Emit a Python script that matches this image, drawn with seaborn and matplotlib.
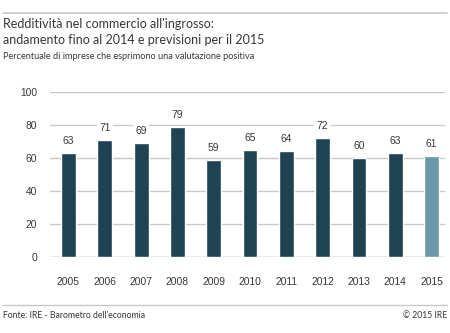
import matplotlib
matplotlib.use("Agg")
import matplotlib.pyplot as plt
import seaborn as sns
import pandas as pd
from matplotlib.lines import Line2D

# Data
years = ["2005", "2006", "2007", "2008", "2009", "2010", "2011", "2012", "2013", "2014", "2015"]
values = [63, 71, 69, 79, 59, 65, 64, 72, 60, 63, 61]
kind = ["consuntivo"] * 10 + ["previsione"]
yticks = [0, 20, 40, 60, 80, 100]

title = "Redditività nel commercio all'ingrosso:\nandamento fino al 2014 e previsioni per il 2015"
subtitle = "Percentuale di imprese che esprimono una valutazione positiva"
source = "Fonte: IRE - Barometro dell'economia"
copyright_txt = "© 2015 IRE"

df = pd.DataFrame({"anno": years, "valore": values, "tipo": kind})

sns.set_theme(style="white")
plt.rcParams["font.family"] = ["Lato", "DejaVu Sans"]
NUM_FONT = ["Liberation Sans", "DejaVu Sans"]

TEXT = "#3b3533"
GRID = "#cdc7c4"
palette = {"consuntivo": "#1f4352", "previsione": "#6a98aa"}

fig = plt.figure(figsize=(4.5, 3.33), dpi=100)
ax = fig.add_axes([0.111, 0.228, 0.878, 0.496])

sns.barplot(data=df, x="anno", y="valore", hue="tipo", palette=palette,
            dodge=False, width=0.41, legend=False, ax=ax, zorder=3,
            saturation=1)

ax.set_ylim(0, 100)
ax.set_xlim(-0.51, 10.37)
ax.set_yticks(yticks)
ax.set_yticklabels([str(t) for t in yticks])
ax.set_xlabel("")
ax.set_ylabel("")
for s in ax.spines.values():
    s.set_visible(False)

for t in yticks:
    ax.axhline(t, color=GRID if t else "#9e9490", lw=1.0, zorder=1)

ax.tick_params(axis="both", length=0, labelsize=7.4, labelcolor=TEXT)
ax.tick_params(axis="y", pad=9)
ax.tick_params(axis="x", pad=14)
for lab in ax.get_xticklabels() + ax.get_yticklabels():
    lab.set_family(NUM_FONT)

# value labels above the bars, masking the grid
for i, v in enumerate(values):
    ax.annotate(str(v), (i, v), xytext=(0, 5), textcoords="offset points",
                ha="center", va="bottom", fontsize=7.4, color=TEXT, zorder=4,
                family=NUM_FONT,
                bbox=dict(boxstyle="square,pad=0.25", fc="white", ec="none"))

# header and footer
fig.add_artist(Line2D([3 / 450, 447 / 450], [1 - 13 / 333] * 2,
                      color=GRID, lw=1.2, transform=fig.transFigure))
fig.text(3 / 450, 1 - 18 / 333, title, ha="left", va="top", fontsize=9.0,
         color=TEXT, linespacing=1.45)
fig.text(3 / 450, 1 - 52 / 333, subtitle, ha="left", va="top", fontsize=6.6,
         color=TEXT)
fig.add_artist(Line2D([3 / 450, 447 / 450], [1 - 305 / 333] * 2,
                      color=GRID, lw=1.0, transform=fig.transFigure))
fig.text(3 / 450, 1 - 316 / 333, source, ha="left", va="center", fontsize=6.2,
         color=TEXT)
fig.text(447 / 450, 1 - 316 / 333, copyright_txt, ha="right", va="center",
         fontsize=6.2, color=TEXT)

fig.savefig("out.png", dpi=100)
